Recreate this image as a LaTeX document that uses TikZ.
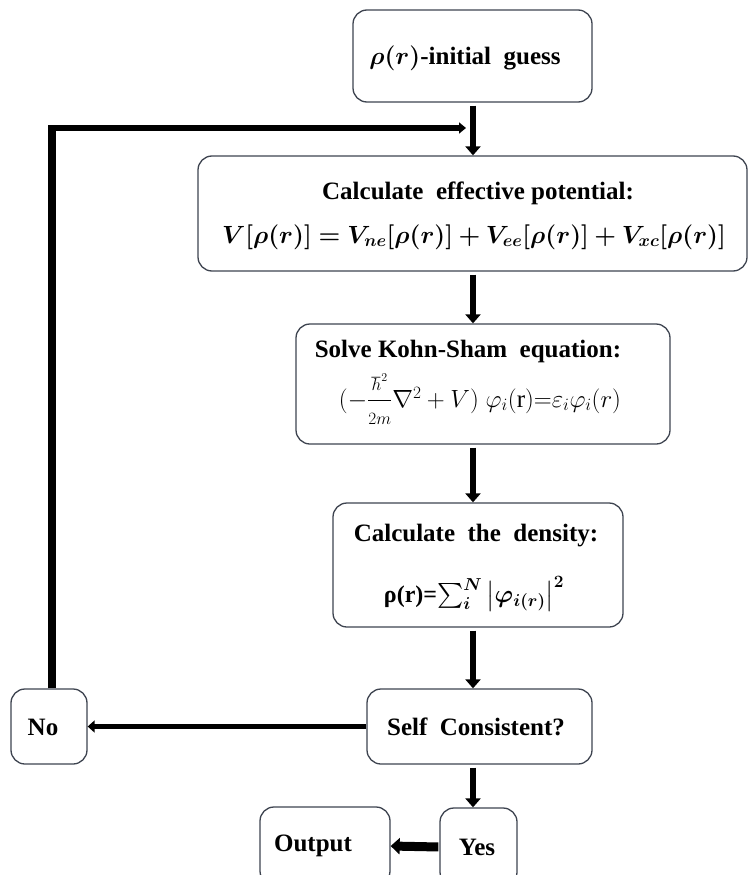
\documentclass[tikz,border=0pt]{standalone}
\usepackage{amsmath,bm}
\usepackage{fontspec}
\setmainfont{Liberation Serif}
\usetikzlibrary{arrows.meta}
\definecolor{boxline}{HTML}{3E4450}

\begin{document}
\begin{tikzpicture}[x=1pt,y=-1pt,
  roundbox/.style={draw=boxline, line width=1.3pt, rounded corners=14pt, fill=white, inner sep=0pt},
  txt/.style={font=\bfseries\fontsize{25}{30}\selectfont, inner sep=0pt, anchor=center},
  eqn/.style={font=\fontsize{26}{30}\selectfont, inner sep=0pt, anchor=center},
  flow/.style={line width=6.5pt, -{Triangle[width=15pt,length=9pt]}, shorten <=3pt},
  loopline/.style={line width=6pt},
  thinflow/.style={line width=5pt, -{Triangle[width=12pt,length=7pt]}},
  fatflow/.style={line width=9pt, -{Triangle[width=16pt,length=9pt]}, shorten <=1pt}
]
\useasboundingbox (0,0) rectangle (749,875);
\clip (0,0) rectangle (749,875);
\fill[white] (0,0) rectangle (749,875);

% boxes
\node[roundbox, minimum width=239pt, minimum height=92pt]  (init) at (472.5,56)  {};
\node[roundbox, minimum width=549pt, minimum height=115pt] (eff)  at (472.5,213.5) {};
\node[roundbox, minimum width=374pt, minimum height=120pt] (ks)   at (483,384) {};
\node[roundbox, minimum width=290pt, minimum height=124pt] (dens) at (478,565) {};
\node[roundbox, minimum width=225pt, minimum height=75pt]  (sc)   at (479.5,726.5) {};
\node[roundbox, minimum width=76pt,  minimum height=75pt]  (no)   at (49,726.5) {};
\node[roundbox, minimum width=77pt,  minimum height=78pt]  (yes)  at (478.5,847) {};
\node[roundbox, minimum width=130pt, minimum height=78pt]  (out)  at (325,846) {};

% texts
\node[txt] (init-t) at (465,58) {$\bm{\rho(r)}$-initial\ \ guess};
\node[txt] (eff-t1) at (478,193) {Calculate\ \ effective potential:};
\node[eqn] (eff-t2) at (474,237) {$\bm{V[\rho(r)] = V_{ne}[\rho(r)] + V_{ee}[\rho(r)] + V_{xc}[\rho(r)]}$};
\node[txt] (ks-t1) at (468,351) {Solve Kohn-Sham\ \ equation:};
\node[eqn, font=\fontsize{25}{30}\selectfont] (ks-t2) at (480,399)
  {$(-\dfrac{\scriptstyle\hbar^2}{\scriptstyle 2m}\nabla^2+V)\;\varphi_i(\mathrm{r}){=}\varepsilon_i\varphi_i(r)$};
\node[txt] (dens-t1) at (476,536) {Calculate\ \ the\ \ density:};
\node[txt, font=\bfseries\fontsize{24}{28}\selectfont] (dens-t2) at (474,594)
  {ρ(r)=$\sum_{\bm i}^{\bm N}\left|\bm{\varphi_{i(r)}}\right|^{\bm 2}$};
\node[txt] (sc-t) at (476,727) {Self\ \ Consistent?};
\node[txt] (no-t) at (43,727) {No};
\node[txt] (yes-t) at (477,847) {Yes};
\node[txt] (out-t) at (313,846) {Output};

% main flow down the middle
\coordinate (spine) at (473,0);
\draw[flow] (init.south -| spine) -- (eff.north -| spine);
\draw[flow] (eff.south -| spine) -- (ks.north -| spine);
\draw[flow] (ks.south -| spine) -- (dens.north -| spine);
\draw[flow] (dens.south -| spine) -- (sc.north -| spine);
\draw[flow] (sc.south -| spine) -- (yes.north -| spine);

% branches
\draw[thinflow] (sc.west) -- (no.east);
\draw[fatflow] (yes.west) -- (out.east);

% loop back to the potential step
\coordinate (corner) at (52,128);
\coordinate (reentry) at (466,128);
\draw[line width=8pt] (no.north -| corner) -- ([yshift=-1pt]corner |- reentry);
\draw[loopline, -{Triangle[width=11pt,length=7pt]}] ([xshift=-4pt]corner) -- (reentry);
\end{tikzpicture}
\end{document}
